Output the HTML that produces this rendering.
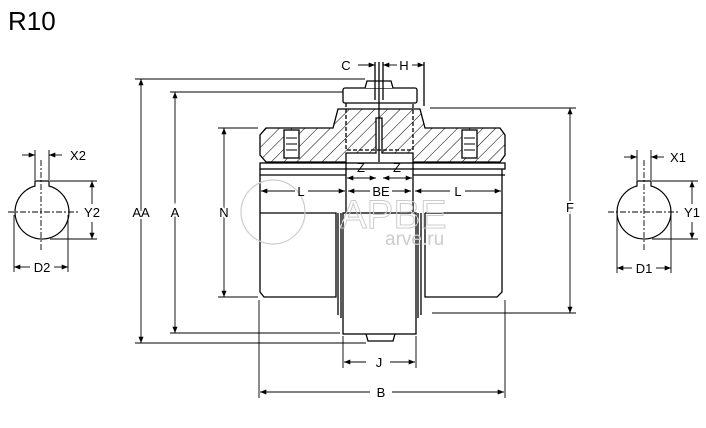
<!DOCTYPE html>
<html><head><meta charset="utf-8"><style>
html,body{margin:0;padding:0;background:#fff;}
svg{display:block;font-family:"Liberation Sans",sans-serif;}
</style></head><body>
<svg width="706" height="428" viewBox="0 0 706 428" xmlns="http://www.w3.org/2000/svg">
<defs>
<marker id="a" viewBox="0 0 10 10" refX="10" refY="5" markerWidth="7" markerHeight="7" orient="auto-start-reverse"><path d="M0,1 L10,5 L0,9 z" fill="#000"/></marker>
<pattern id="h" patternUnits="userSpaceOnUse" width="9" height="9" patternTransform="rotate(45)"><line x1="0" y1="0" x2="0" y2="9" stroke="#000" stroke-width="1"/></pattern>
<pattern id="h2" patternUnits="userSpaceOnUse" width="9" height="9" patternTransform="rotate(-45)"><line x1="0" y1="0" x2="0" y2="9" stroke="#000" stroke-width="1"/></pattern>
</defs>
<text x="8" y="30" font-size="26">R10</text>
<g stroke="#000" fill="none" stroke-width="1.3">
<!-- hatched hub -->
<path d="M266,128 L333,128 L338,109 L420,109 L425,128 L500,128 L505,135 L505,155 L500,162 L413,162 L413,153 L382,153 L382,118 L376,118 L376,153 L346,153 L346,162 L266,162 L260,155 L260,135 Z" fill="url(#h)"/>
<rect x="284" y="130" width="15" height="28" fill="#fff"/>
<rect x="462" y="130" width="15" height="28" fill="#fff"/>
<g stroke-width="1"><line x1="286" y1="138" x2="297" y2="138"/><line x1="286" y1="144" x2="297" y2="144"/><line x1="286" y1="150" x2="297" y2="150"/><line x1="464" y1="138" x2="475" y2="138"/><line x1="464" y1="144" x2="475" y2="144"/><line x1="464" y1="150" x2="475" y2="150"/></g>
<!-- cap -->
<rect x="343" y="88" width="74" height="15" rx="2" fill="#fff"/>
<path d="M365,88 L367,81 L391,81 L393,88" fill="#fff"/>
<path d="M346,103 L346,150 L413,150 L413,103" stroke-dasharray="4,2"/>
<line x1="379" y1="62" x2="379" y2="162"/>
<line x1="375" y1="62" x2="375" y2="100"/><line x1="383" y1="62" x2="383" y2="100"/>
<line x1="424" y1="62" x2="424" y2="106"/>
<!-- bands -->
<rect x="260" y="163" width="245" height="6"/>
<line x1="260" y1="175" x2="346" y2="175"/><line x1="413" y1="175" x2="505" y2="175"/>
<!-- hubs -->
<path d="M260,169 L260,292 L264,297 L336,297 L336,213 L260,213"/>
<path d="M425,213 L425,297 L497,297 L502,292 L502,169 M425,213 L502,213"/>
<line x1="338" y1="213" x2="338" y2="315"/><line x1="341" y1="213" x2="341" y2="318"/>
<line x1="418" y1="213" x2="418" y2="318"/><line x1="421" y1="213" x2="421" y2="315"/>
<rect x="343" y="213" width="73" height="121" fill="#fff"/>
<path d="M366,334 L368,341 L393,341 L395,334"/>
<line x1="346" y1="162" x2="346" y2="213"/><line x1="413" y1="162" x2="413" y2="213"/>
</g>
<g stroke="#000" fill="none" stroke-width="0.9">
<!-- extension lines -->
<line x1="135" y1="79" x2="365" y2="79"/><line x1="170" y1="92" x2="343" y2="92"/>
<line x1="218" y1="128" x2="258" y2="128"/><line x1="218" y1="297" x2="258" y2="297"/>
<line x1="430" y1="108" x2="576" y2="108"/><line x1="432" y1="313" x2="576" y2="313"/>
<line x1="170" y1="333" x2="340" y2="333"/><line x1="135" y1="343" x2="366" y2="343"/>
<line x1="343" y1="336" x2="343" y2="368"/><line x1="416" y1="336" x2="416" y2="368"/>
<line x1="259" y1="300" x2="259" y2="398"/><line x1="505" y1="300" x2="505" y2="398"/>
<!-- dims -->
<line x1="141" y1="79" x2="141" y2="343" marker-start="url(#a)" marker-end="url(#a)"/>
<line x1="175" y1="92" x2="175" y2="333" marker-start="url(#a)" marker-end="url(#a)"/>
<line x1="224" y1="128" x2="224" y2="297" marker-start="url(#a)" marker-end="url(#a)"/>
<line x1="570" y1="108" x2="570" y2="313" marker-start="url(#a)" marker-end="url(#a)"/>
<line x1="344" y1="362" x2="366" y2="362" marker-start="url(#a)"/><line x1="390" y1="362" x2="415" y2="362" marker-end="url(#a)"/>
<line x1="260" y1="392" x2="370" y2="392" marker-start="url(#a)"/><line x1="392" y1="392" x2="504" y2="392" marker-end="url(#a)"/>
<line x1="358" y1="65" x2="375" y2="65" marker-end="url(#a)"/><line x1="397" y1="65" x2="383" y2="65" marker-end="url(#a)"/>
<line x1="412" y1="65" x2="424" y2="65" marker-end="url(#a)"/>
<line x1="347" y1="178" x2="376" y2="178" marker-start="url(#a)" marker-end="url(#a)"/>
<line x1="383" y1="178" x2="412" y2="178" marker-start="url(#a)" marker-end="url(#a)"/>
<line x1="261" y1="191" x2="295" y2="191" marker-start="url(#a)"/><line x1="308" y1="191" x2="345" y2="191" marker-end="url(#a)"/>
<line x1="348" y1="191" x2="370" y2="191" marker-start="url(#a)"/><line x1="392" y1="191" x2="411" y2="191" marker-end="url(#a)"/>
<line x1="415" y1="191" x2="450" y2="191" marker-start="url(#a)"/><line x1="465" y1="191" x2="501" y2="191" marker-end="url(#a)"/>
<!-- keyways -->
<path d="M35,186 L35,181 L49,181 L49,186 A27,27 0 1 1 35,186 Z" stroke-width="1.2"/>
<line x1="41" y1="160" x2="41" y2="250" stroke-dasharray="6,2,2,2"/><line x1="8" y1="212" x2="80" y2="212" stroke-dasharray="6,2,2,2"/>
<line x1="35" y1="150" x2="35" y2="180"/><line x1="49" y1="150" x2="49" y2="180"/>
<line x1="22" y1="155" x2="35" y2="155" marker-end="url(#a)"/><line x1="62" y1="155" x2="49" y2="155" marker-end="url(#a)"/>
<line x1="50" y1="181" x2="97" y2="181"/><line x1="50" y1="239" x2="97" y2="239"/>
<line x1="92" y1="181" x2="92" y2="204" marker-start="url(#a)"/><line x1="92" y1="222" x2="92" y2="239" marker-end="url(#a)"/>
<line x1="14" y1="215" x2="14" y2="272"/><line x1="68" y1="215" x2="68" y2="272"/>
<line x1="14" y1="267" x2="30" y2="267" marker-start="url(#a)"/><line x1="54" y1="267" x2="68" y2="267" marker-end="url(#a)"/>
<path d="M637,186 L637,181 L651,181 L651,186 A27,27 0 1 1 637,186 Z" stroke-width="1.2"/>
<line x1="644" y1="160" x2="644" y2="250" stroke-dasharray="6,2,2,2"/><line x1="608" y1="212" x2="680" y2="212" stroke-dasharray="6,2,2,2"/>
<line x1="637" y1="150" x2="637" y2="180"/><line x1="651" y1="150" x2="651" y2="180"/>
<line x1="624" y1="157" x2="637" y2="157" marker-end="url(#a)"/><line x1="664" y1="157" x2="651" y2="157" marker-end="url(#a)"/>
<line x1="652" y1="181" x2="698" y2="181"/><line x1="652" y1="239" x2="698" y2="239"/>
<line x1="692" y1="181" x2="692" y2="204" marker-start="url(#a)"/><line x1="692" y1="222" x2="692" y2="239" marker-end="url(#a)"/>
<line x1="617" y1="215" x2="617" y2="273"/><line x1="671" y1="215" x2="671" y2="273"/>
<line x1="617" y1="268" x2="632" y2="268" marker-start="url(#a)"/><line x1="656" y1="268" x2="671" y2="268" marker-end="url(#a)"/>
</g>
<!-- watermark -->
<g fill="none" stroke="#ccc" stroke-width="1.2"><circle cx="273" cy="212" r="32"/></g>
<text x="340" y="228" font-size="40" fill="none" stroke="#ccc">АРВЕ</text>
<text x="385" y="245" font-size="19" fill="#ccc">arve.ru</text>
<g font-size="13" text-anchor="middle" fill="#000">
<text x="346" y="70">C</text><text x="404" y="70">H</text>
<text x="361" y="172">Z</text><text x="397" y="172">Z</text>
<text x="301" y="196">L</text><text x="381" y="196">BE</text><text x="458" y="196">L</text>
<text x="141" y="217" fill="#000" style="paint-order:stroke" stroke="#fff" stroke-width="4">AA</text>
<text x="175" y="217" style="paint-order:stroke" stroke="#fff" stroke-width="4">A</text>
<text x="224" y="217" style="paint-order:stroke" stroke="#fff" stroke-width="4">N</text>
<text x="570" y="212" style="paint-order:stroke" stroke="#fff" stroke-width="4">F</text>
<text x="379" y="367">J</text><text x="381" y="397">B</text>
<text x="78" y="160">X2</text><text x="92" y="217">Y2</text><text x="42" y="272">D2</text>
<text x="678" y="162">X1</text><text x="692" y="217">Y1</text><text x="644" y="273">D1</text>
</g>
</svg>
</body></html>
